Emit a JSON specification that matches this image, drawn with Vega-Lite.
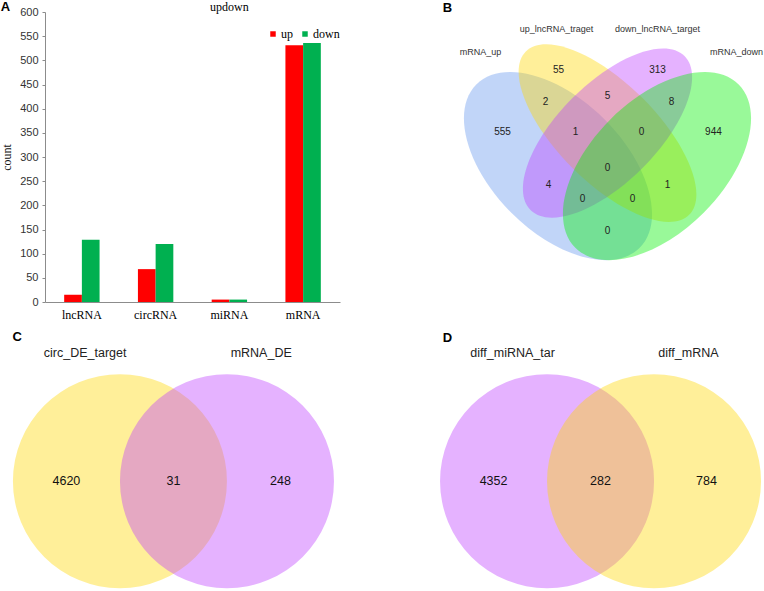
{
  "$schema": "https://vega.github.io/schema/vega-lite/v6.json",
  "padding": {"left": 0, "top": 1, "right": 0, "bottom": 0},
  "background": "white",
  "config": {"view": {"stroke": null}, "axis": {"labelColor": "#333", "titleColor": "#111"}},
  "datasets": {
    "bars": [
      {"category": "lncRNA", "type": "up", "count": 15},
      {"category": "lncRNA", "type": "down", "count": 129},
      {"category": "circRNA", "type": "up", "count": 68},
      {"category": "circRNA", "type": "down", "count": 120},
      {"category": "miRNA", "type": "up", "count": 5},
      {"category": "miRNA", "type": "down", "count": 5},
      {"category": "mRNA", "type": "up", "count": 531},
      {"category": "mRNA", "type": "down", "count": 536}
    ],
    "a_title": [{"t": "updown", "category": "miRNA", "count": 610}],
    "b_sets": [
      {"set": "mRNA_up", "x": 0.35, "y": 0.47, "a": 0.35, "rot": 45},
      {"set": "up_lncRNA_traget", "x": 0.5, "y": 0.57, "a": 0.35, "rot": 45},
      {"set": "down_lncRNA_target", "x": 0.5, "y": 0.57, "a": 0.33, "rot": -45},
      {"set": "mRNA_down", "x": 0.65, "y": 0.47, "a": 0.35, "rot": -45}
    ],
    "b_labels": [
      {"t": "up_lncRNA_traget", "x": 0.3455, "y": 0.885},
      {"t": "down_lncRNA_target", "x": 0.6515, "y": 0.885},
      {"t": "mRNA_up", "x": 0.115, "y": 0.815},
      {"t": "mRNA_down", "x": 0.891, "y": 0.815}
    ],
    "b_counts": [
      {"n": "55", "x": 0.3515, "y": 0.761},
      {"n": "313", "x": 0.6515, "y": 0.761},
      {"n": "2", "x": 0.312, "y": 0.664},
      {"n": "5", "x": 0.5, "y": 0.682},
      {"n": "8", "x": 0.694, "y": 0.664},
      {"n": "555", "x": 0.182, "y": 0.573},
      {"n": "1", "x": 0.403, "y": 0.573},
      {"n": "0", "x": 0.603, "y": 0.573},
      {"n": "944", "x": 0.821, "y": 0.573},
      {"n": "0", "x": 0.5, "y": 0.464},
      {"n": "4", "x": 0.321, "y": 0.412},
      {"n": "1", "x": 0.682, "y": 0.412},
      {"n": "0", "x": 0.424, "y": 0.37},
      {"n": "0", "x": 0.576, "y": 0.37},
      {"n": "0", "x": 0.5, "y": 0.273}
    ],
    "b_letter": [{"t": "B", "x": 0.015, "y": 0.949}],
    "c_sets": [
      {"set": "circ_DE_target", "x": 0, "y": 0, "r": 1},
      {"set": "mRNA_DE", "x": 1, "y": 0, "r": 1}
    ],
    "c_labels": [
      {"t": "circ_DE_target", "x": -0.325, "y": 1.2},
      {"t": "mRNA_DE", "x": 1.32, "y": 1.2}
    ],
    "c_counts": [
      {"n": "4620", "x": -0.5, "y": 0},
      {"n": "31", "x": 0.5, "y": 0},
      {"n": "248", "x": 1.5, "y": 0}
    ],
    "c_letter": [{"t": "C", "x": -0.96, "y": 1.35}],
    "d_sets": [
      {"set": "diff_miRNA_tar", "x": 0, "y": 0, "r": 1},
      {"set": "diff_mRNA", "x": 1, "y": 0, "r": 1}
    ],
    "d_labels": [
      {"t": "diff_miRNA_tar", "x": -0.322, "y": 1.2},
      {"t": "diff_mRNA", "x": 1.322, "y": 1.2}
    ],
    "d_counts": [
      {"n": "4352", "x": -0.5, "y": 0},
      {"n": "282", "x": 0.5, "y": 0},
      {"n": "784", "x": 1.49, "y": 0}
    ],
    "d_letter": [{"t": "D", "x": -0.93, "y": 1.34}]
  },
  "bounds": "flush",
  "columns": 2,
  "spacing": {"row": 19, "column": 53},
  "resolve": {
    "scale": {"x": "independent", "y": "independent", "color": "independent", "size": "independent", "shape": "independent", "angle": "independent"},
    "legend": {"color": "independent", "size": "independent", "shape": "independent"}
  },
  "concat": [
    {
      "width": 295,
      "height": 290,
      "title": {"text": "A", "anchor": "start", "frame": "bounds", "font": "Liberation Sans", "fontSize": 13, "fontWeight": "bold", "color": "#000", "offset": 0, "dy": 13},
      "encoding": {
        "x": {"field": "category", "type": "nominal", "sort": ["lncRNA", "circRNA", "miRNA", "mRNA"],
              "scale": {"domain": ["lncRNA", "circRNA", "miRNA", "mRNA"], "paddingInner": 0.52, "paddingOuter": 0.26},
              "axis": {"title": null, "labelAngle": 0, "labelFont": "Liberation Serif", "labelFontSize": 12, "labelColor": "#000", "ticks": false, "domainColor": "#8c8c8c", "labelPadding": 7}},
        "y": {"field": "count", "type": "quantitative", "scale": {"domain": [0, 600], "nice": false},
              "axis": {"values": [0, 50, 100, 150, 200, 250, 300, 350, 400, 450, 500, 550, 600], "labelOverlap": false, "grid": false, "title": "count",
                       "titleFont": "Liberation Serif", "titleFontWeight": "normal", "titleFontSize": 12, "titlePadding": 6,
                       "labelFont": "Liberation Sans", "labelFontSize": 11, "labelPadding": 4, "tickSize": 3, "tickColor": "#8c8c8c", "domainColor": "#8c8c8c"}}
      },
      "layer": [
        {
          "data": {"name": "bars"},
          "mark": {"type": "bar"},
          "encoding": {
            "xOffset": {"field": "type", "type": "nominal", "sort": ["up", "down"], "scale": {"paddingInner": 0, "paddingOuter": 0}},
            "color": {"field": "type", "type": "nominal", "sort": ["up", "down"],
                      "scale": {"domain": ["up", "down"], "range": ["#FF0000", "#00B050"]},
                      "legend": {"title": null, "orient": "none", "legendX": 222, "legendY": 16, "direction": "horizontal",
                                 "symbolType": "square", "symbolSize": 30, "symbolStrokeWidth": 0, "symbolOpacity": 1, "labelFont": "Liberation Serif", "labelFontSize": 12,
                                 "labelColor": "#000", "labelOffset": 2, "columnPadding": 6}}
          }
        },
        {
          "data": {"name": "a_title"},
          "mark": {"type": "text", "font": "Liberation Serif", "fontSize": 12, "color": "#000"},
          "encoding": {"text": {"field": "t"}}
        }
      ]
    },
    {
      "width": 363,
      "height": 290,
      "layer": [
        {
          "data": {"name": "b_sets"},
          "mark": {"type": "point", "filled": true, "opacity": 0.4, "strokeWidth": 0},
          "encoding": {
            "x": {"field": "x", "type": "quantitative", "scale": {"domain": [-0.15, 0.95], "nice": false, "zero": false}, "axis": null},
            "y": {"field": "y", "type": "quantitative", "scale": {"domain": [0.058, 0.937], "nice": false, "zero": false}, "axis": null},
            "size": {"field": "a", "type": "quantitative", "scale": {"type": "pow", "exponent": 2, "domain": [0, 1], "range": [0, 435600]}, "legend": null},
            "angle": {"field": "rot", "type": "quantitative", "scale": null},
            "shape": {"field": "set", "type": "nominal", "legend": null,
                      "scale": {"domain": ["mRNA_up", "up_lncRNA_traget", "down_lncRNA_target", "mRNA_down"],
                                "range": ["M-1,0A1,0.5714,0,1,1,1,0A1,0.5714,0,1,1,-1,0Z", "M-1,0A1,0.4286,0,1,1,1,0A1,0.4286,0,1,1,-1,0Z", "M-1,0A1,0.4545,0,1,1,1,0A1,0.4545,0,1,1,-1,0Z", "M-1,0A1,0.5714,0,1,1,1,0A1,0.5714,0,1,1,-1,0Z"]}},
            "color": {"field": "set", "type": "nominal", "legend": null,
                      "scale": {"domain": ["mRNA_up", "up_lncRNA_traget", "down_lncRNA_target", "mRNA_down"], "range": ["#6495ED", "#FFD700", "#BF3EFF", "#00F000"]}}
          }
        },
        {
          "data": {"name": "b_labels"},
          "mark": {"type": "text", "font": "Liberation Sans", "fontSize": 9, "color": "#333"},
          "encoding": {"x": {"field": "x", "type": "quantitative"}, "y": {"field": "y", "type": "quantitative"}, "text": {"field": "t"}}
        },
        {
          "data": {"name": "b_counts"},
          "mark": {"type": "text", "font": "Liberation Sans", "fontSize": 10, "color": "#222"},
          "encoding": {"x": {"field": "x", "type": "quantitative"}, "y": {"field": "y", "type": "quantitative"}, "text": {"field": "n"}}
        },
        {
          "data": {"name": "b_letter"},
          "mark": {"type": "text", "font": "Liberation Sans", "fontSize": 13, "fontWeight": "bold", "color": "#000"},
          "encoding": {"x": {"field": "x", "type": "quantitative"}, "y": {"field": "y", "type": "quantitative"}, "text": {"field": "t"}}
        }
      ]
    },
    {
      "width": 289,
      "height": 267,
      "layer": [
        {
          "data": {"name": "c_sets"},
          "mark": {"type": "point", "shape": "circle", "filled": true, "opacity": 0.4, "strokeWidth": 0},
          "encoding": {
            "x": {"field": "x", "type": "quantitative", "scale": {"domain": [-0.7, 2.0], "nice": false, "zero": false}, "axis": null},
            "y": {"field": "y", "type": "quantitative", "scale": {"domain": [-1.0, 1.5], "nice": false, "zero": false}, "axis": null},
            "size": {"field": "r", "type": "quantitative", "scale": {"type": "pow", "exponent": 2, "domain": [0, 1], "range": [0, 45796]}, "legend": null},
            "color": {"field": "set", "type": "nominal", "legend": null,
                      "scale": {"domain": ["circ_DE_target", "mRNA_DE"], "range": ["#FFD700", "#BF3EFF"]}}
          }
        },
        {
          "data": {"name": "c_labels"},
          "mark": {"type": "text", "font": "Liberation Sans", "fontSize": 12.5, "color": "#222"},
          "encoding": {"x": {"field": "x", "type": "quantitative"}, "y": {"field": "y", "type": "quantitative"}, "text": {"field": "t"}}
        },
        {
          "data": {"name": "c_counts"},
          "mark": {"type": "text", "font": "Liberation Sans", "fontSize": 12.5, "color": "#111"},
          "encoding": {"x": {"field": "x", "type": "quantitative"}, "y": {"field": "y", "type": "quantitative"}, "text": {"field": "n"}}
        },
        {
          "data": {"name": "c_letter"},
          "mark": {"type": "text", "font": "Liberation Sans", "fontSize": 13, "fontWeight": "bold", "color": "#000"},
          "encoding": {"x": {"field": "x", "type": "quantitative"}, "y": {"field": "y", "type": "quantitative"}, "text": {"field": "t"}}
        }
      ]
    },
    {
      "width": 368,
      "height": 267,
      "layer": [
        {
          "data": {"name": "d_sets"},
          "mark": {"type": "point", "shape": "circle", "filled": true, "opacity": 0.4, "strokeWidth": 0},
          "encoding": {
            "x": {"field": "x", "type": "quantitative", "scale": {"domain": [-1.44, 2.0], "nice": false, "zero": false}, "axis": null},
            "y": {"field": "y", "type": "quantitative", "scale": {"domain": [-1.0, 1.5], "nice": false, "zero": false}, "axis": null},
            "size": {"field": "r", "type": "quantitative", "scale": {"type": "pow", "exponent": 2, "domain": [0, 1], "range": [0, 45796]}, "legend": null},
            "color": {"field": "set", "type": "nominal", "legend": null,
                      "scale": {"domain": ["diff_miRNA_tar", "diff_mRNA"], "range": ["#BF3EFF", "#FFD700"]}}
          }
        },
        {
          "data": {"name": "d_labels"},
          "mark": {"type": "text", "font": "Liberation Sans", "fontSize": 12.5, "color": "#222"},
          "encoding": {"x": {"field": "x", "type": "quantitative"}, "y": {"field": "y", "type": "quantitative"}, "text": {"field": "t"}}
        },
        {
          "data": {"name": "d_counts"},
          "mark": {"type": "text", "font": "Liberation Sans", "fontSize": 12.5, "color": "#111"},
          "encoding": {"x": {"field": "x", "type": "quantitative"}, "y": {"field": "y", "type": "quantitative"}, "text": {"field": "n"}}
        },
        {
          "data": {"name": "d_letter"},
          "mark": {"type": "text", "font": "Liberation Sans", "fontSize": 13, "fontWeight": "bold", "color": "#000"},
          "encoding": {"x": {"field": "x", "type": "quantitative"}, "y": {"field": "y", "type": "quantitative"}, "text": {"field": "t"}}
        }
      ]
    }
  ]
}
